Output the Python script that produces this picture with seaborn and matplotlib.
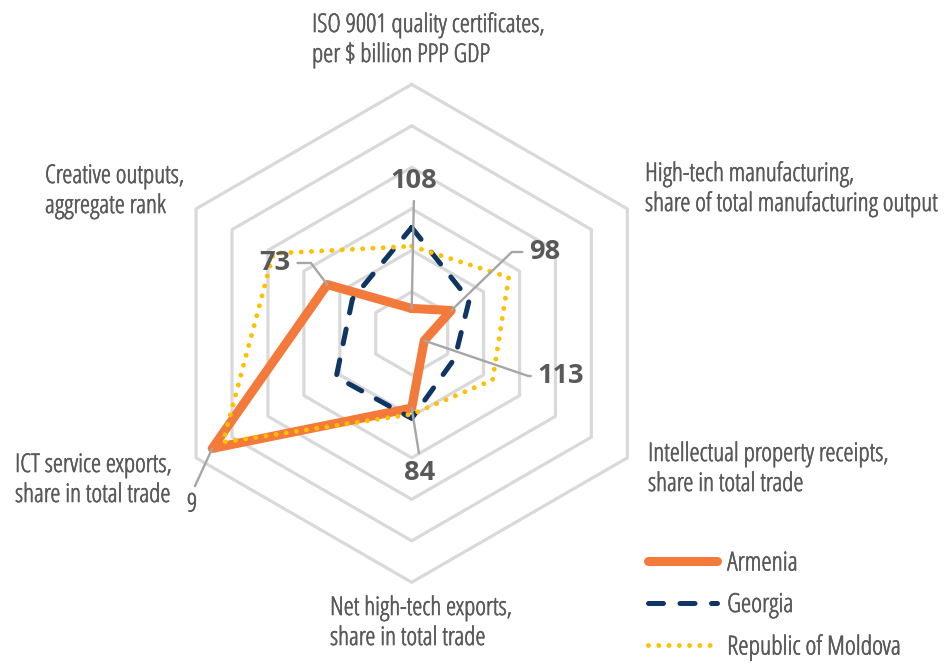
import numpy as np
import matplotlib
matplotlib.use("Agg")
import matplotlib.pyplot as plt
from matplotlib import font_manager, patheffects
from matplotlib.font_manager import FontProperties
from matplotlib.textpath import TextPath
import pandas as pd
import seaborn as sns

# GII ranks (lower = better, drawn outward)
axis_labels = [
    ["ISO 9001 quality certificates,", r"per \$ billion PPP GDP"],
    ["High-tech manufacturing,", "share of total manufacturing output"],
    ["Intellectual property receipts,", "share in total trade"],
    ["Net high-tech exports,", "share in total trade"],
    ["ICT service exports,", "share in total trade"],
    ["Creative outputs,", "aggregate rank"],
]
countries = ["Armenia", "Georgia", "Republic of Moldova"]
armenia = [108, 98, 113, 84, 9, 73]
georgia = [69, 88, 96, 79, 78, 87]
moldova = [78, 66, 75, 81, 15, 43]
rings = [0, 20, 40, 60, 80, 100]

W, H = 946, 664
TXT = "#595959"
# light condensed face -> thicken the strokes a little
THICK = [patheffects.withStroke(linewidth=0.45, foreground=TXT)]

sns.set_style("white")
fig = plt.figure(figsize=(W / 100, H / 100), dpi=100)
renderer = fig.canvas.get_renderer()


def width_px(s, fam, st, size, weight="normal"):
    fp = FontProperties(family=fam, stretch=st, size=size, weight=weight)
    return renderer.get_text_width_height_descent(s, fp, ismath=False)[0]


# pick the narrowest installed font (reference uses a condensed face)
probe = "share of total manufacturing output"
best = None
for fam in ["Liberation Sans Narrow", "Roboto Condensed", "Open Sans Condensed",
            "Noto Sans", "DejaVu Sans", "Roboto", "Lato", "Open Sans", "Inter",
            "Liberation Sans"]:
    for st in ["condensed", "semi-condensed", "normal"]:
        try:
            font_manager.findfont(FontProperties(family=fam, stretch=st),
                                  fallback_to_default=False)
        except Exception:
            continue
        w = width_px(probe, fam, st, 10)
        if best is None or w < best[0]:
            best = (w, fam, st)
_, FONT, STRETCH = best
plt.rcParams["font.family"] = [FONT, "DejaVu Sans"]

LAB_SIZE = 10 * 296 / width_px(probe, FONT, STRETCH, 10)
LEG_SIZE = LAB_SIZE * 1.02
# value labels: size from glyph height (~20 px digits)
tp = TextPath((0, 0), "108", prop=FontProperties(family=FONT, stretch=STRETCH,
                                                  size=10, weight="bold"))
VAL_SIZE = 10 * 20 / (tp.get_extents().height * 100 / 72)

ax = fig.add_axes([0.172, 0.123, 0.5264, 0.75], projection="polar")
ax.set_theta_offset(np.pi / 2)
ax.set_theta_direction(-1)
ax.set_ylim(120, 0)
ax.grid(False)
ax.set_xticks([])
ax.set_yticks([])
ax.spines["polar"].set_visible(False)
ax.patch.set_visible(False)

n = len(armenia)
theta = np.linspace(0, 2 * np.pi, n + 1)

# hexagonal grid
for rk in rings:
    ax.plot(theta, [rk] * (n + 1), color="#d9d9d9", lw=2.3, clip_on=False, zorder=1)

rows = []
for name, vals in zip(countries, [armenia, georgia, moldova]):
    for i, v in enumerate(vals + vals[:1]):
        rows.append({"country": name, "theta": theta[i], "rank": v})
df = pd.DataFrame(rows)

styles = {
    "Armenia": dict(color="#F37A3A", lw=6.5, ls="-", solid_capstyle="round",
                    solid_joinstyle="round", zorder=3),
    "Georgia": dict(color="#0F3563", lw=3.6, ls=(0, (3.0, 3.3)), dash_capstyle="round",
                    zorder=4),
    "Republic of Moldova": dict(color="#FFC000", lw=3.5, ls=(0, (0.01, 2.1)),
                                dash_capstyle="round", zorder=5),
}
for name in countries:
    sub = df[df["country"] == name]
    sns.lineplot(data=sub, x="theta", y="rank", sort=False, estimator=None,
                 ax=ax, label=name, legend=False, clip_on=False, **styles[name])
ax.set_xlabel("")
ax.set_ylabel("")


def fpx(x, y):
    return (x, H - y)


# value labels for Armenia with leader lines
labels = [
    # text pos, relpos, connection, bold
    ((414, 181), (0.5, 0), "arc3,rad=0", True),
    ((545, 252), (0, 0.5), "angle,angleA=0,angleB=44,rad=0", True),
    ((561, 376), (0, 0.5), "angle,angleA=0,angleB=-18.8,rad=0", True),
    ((420, 473), (0.5, 1), "arc3,rad=0", True),
    ((192, 505), (0.5, 1), "arc3,rad=0", False),
    ((275, 263), (1, 0.5), "angle,angleA=0,angleB=127,rad=0", True),
]
for i, (pos, rel, conn, bold) in enumerate(labels):
    ax.annotate(str(armenia[i]), xy=(theta[i], armenia[i]), xycoords="data",
                xytext=fpx(*pos), textcoords="figure pixels",
                ha="center", va="center", color=TXT,
                fontsize=VAL_SIZE if bold else LAB_SIZE,
                fontweight="bold" if bold else "normal",
                path_effects=None if bold else THICK,
                fontstretch=STRETCH, annotation_clip=False, zorder=6,
                arrowprops=dict(arrowstyle="-", color="#a6a6a6", lw=1.7,
                                relpos=rel, connectionstyle=conn, patchA=None,
                                shrinkA=5, shrinkB=0))

# axis titles
title_pos = [(312, 32), (645, 181), (648, 461), (330, 615), (15, 472), (45, 183)]
for (x, y), lines in zip(title_pos, axis_labels):
    for k, line in enumerate(lines):
        fig.text(x / W, 1 - (y + 30 * k) / H, line, ha="left", va="baseline",
                 fontsize=LAB_SIZE, color=TXT, fontstretch=STRETCH,
                 path_effects=THICK)

handles, labs = ax.get_legend_handles_labels()
leg = fig.legend(handles, labs, loc="center left", bbox_to_anchor=(648 / W, 1 - 606 / H),
                 frameon=False, fontsize=LEG_SIZE, handlelength=50 / LEG_SIZE,
                 handletextpad=7 / LEG_SIZE, labelspacing=0.63,
                 borderpad=0, borderaxespad=0)
for t in leg.get_texts():
    t.set_color(TXT)
    t.set_fontstretch(STRETCH)
    t.set_path_effects(THICK)

fig.savefig("out.png", dpi=100, facecolor="white")
